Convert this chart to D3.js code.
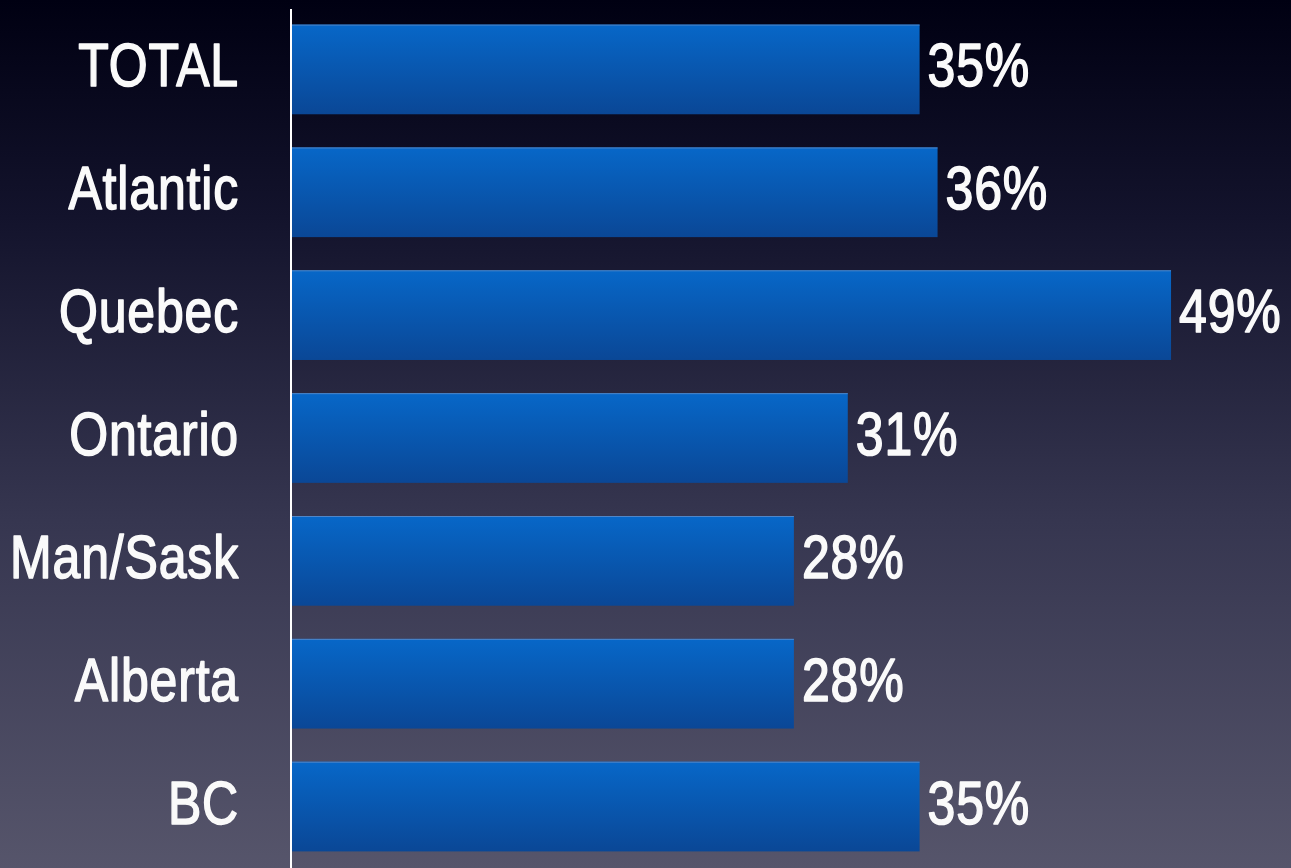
<!DOCTYPE html>
<meta charset="utf-8">
<head>
    <script src="https://cdn.jsdelivr.net/npm/d3@7"></script>
    <style>
        html, body { margin: 0; padding: 0; overflow: hidden; }
        text { font-family: "Liberation Sans", Arial, sans-serif; font-weight: normal; fill: #fafafa;
               stroke: #fafafa; stroke-width: 1.6px; stroke-linejoin: round; letter-spacing: 1px; }
    </style>
</head>
<body>
<div id="chart"></div>
<script>
    // data
    var regions = ["TOTAL", "Atlantic", "Quebec", "Ontario", "Man/Sask", "Alberta", "BC"];
    var shares = [35, 36, 49, 31, 28, 28, 35];

    var w = 1291, h = 868;
    var fontSize = 61, squeeze = 0.82;

    var svg = d3.select("#chart").append("svg")
        .attr("width", w).attr("height", h);

    var defs = svg.append("defs");
    var bg = defs.append("linearGradient").attr("id", "bg")
        .attr("x1", 0).attr("y1", 0).attr("x2", 0).attr("y2", 1);
    bg.append("stop").attr("offset", "0%").attr("stop-color", "#000012");
    bg.append("stop").attr("offset", "25%").attr("stop-color", "#13132c");
    bg.append("stop").attr("offset", "60%").attr("stop-color", "#363650");
    bg.append("stop").attr("offset", "100%").attr("stop-color", "#56556b");

    var bar = defs.append("linearGradient").attr("id", "bar")
        .attr("x1", 0).attr("y1", 0).attr("x2", 0).attr("y2", 1);
    bar.append("stop").attr("offset", "0%").attr("stop-color", "#0767c8");
    bar.append("stop").attr("offset", "100%").attr("stop-color", "#0a4796");

    svg.append("rect").attr("width", w).attr("height", h).attr("fill", "url(#bg)");

    var x = d3.scaleLinear().domain([0, 50]).range([291, 1189]);
    var y = d3.scaleBand().domain(regions).range([8, 868])
        .paddingInner(0.27).paddingOuter(0.135);

    var rows = regions.map((r, i) => ({region: r, value: shares[i]}));

    // bars
    svg.selectAll("rect.bar")
        .data(rows)
        .enter()
        .append("rect")
        .attr("class", "bar")
        .attr("x", x(0))
        .attr("y", d => y(d.region))
        .attr("width", d => x(d.value) - x(0))
        .attr("height", y.bandwidth())
        .attr("fill", "url(#bar)");

    // thin lighter top edge
    svg.selectAll("line.edge")
        .data(rows)
        .enter()
        .append("line")
        .attr("x1", x(0)).attr("x2", d => x(d.value))
        .attr("y1", d => y(d.region) + 0.5).attr("y2", d => y(d.region) + 0.5)
        .attr("stroke", "#4f86c8").attr("stroke-width", 1);

    // vertical axis line
    svg.append("line")
        .attr("x1", x(0)).attr("x2", x(0))
        .attr("y1", 9).attr("y2", h)
        .attr("stroke", "white").attr("stroke-width", 2);

    var baseShift = 17;

    // category labels
    svg.selectAll("text.cat")
        .data(rows)
        .enter()
        .append("text")
        .attr("class", "cat")
        .attr("text-anchor", "end")
        .attr("font-size", fontSize)
        .attr("transform", d => "translate(239," + (y(d.region) + y.bandwidth() / 2 + baseShift) + ") scale(" + squeeze + ",1)")
        .text(d => d.region);

    // value labels
    svg.selectAll("text.val")
        .data(rows)
        .enter()
        .append("text")
        .attr("class", "val")
        .attr("font-size", fontSize)
        .attr("transform", d => "translate(" + (x(d.value) + 8) + "," + (y(d.region) + y.bandwidth() / 2 + baseShift) + ") scale(" + squeeze + ",1)")
        .text(d => d.value + "%");
</script>
</body>
</html>
